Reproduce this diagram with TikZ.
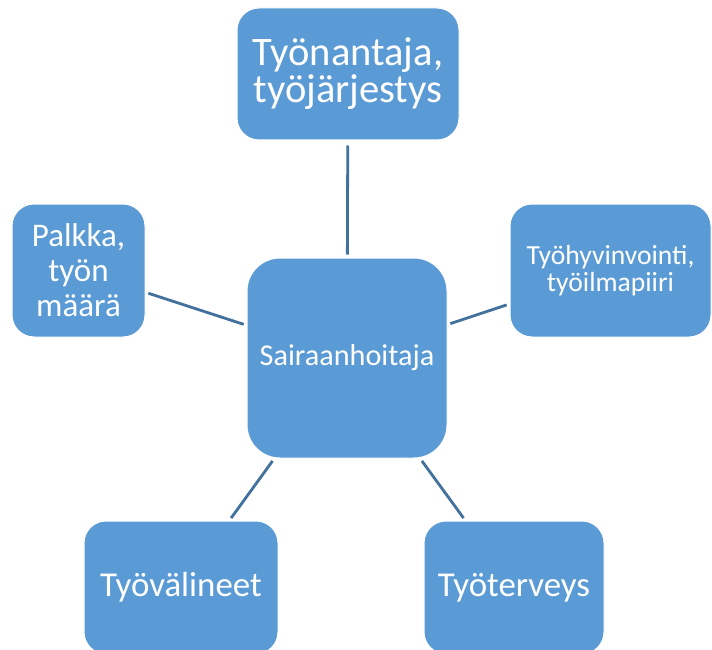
\documentclass[tikz,border=0pt]{standalone}
\usepackage{fontspec}
\setmainfont{Carlito}
\definecolor{boxfill}{HTML}{5B9BD5}
\definecolor{linecol}{HTML}{41719C}
\begin{document}
\begin{tikzpicture}[x=1pt,y=-1pt,
  box/.style={draw=white, line width=1pt, fill=boxfill, text=white, inner sep=0pt, align=center},
  conn/.style={draw=linecol, line width=2.8pt, shorten >=3pt, shorten <=3pt}]
\fill[white] (0,0) rectangle (712,650);
\useasboundingbox (0,0) rectangle (712,650);
\node[box, minimum width=222pt, minimum height=132pt, rounded corners=22pt, font=\fontsize{40.5}{37}\selectfont] (top) at (348,74) {Työnantaja,\\työjärjestys};
\node[box, minimum width=200pt, minimum height=200pt, rounded corners=33pt, font=\fontsize{30.2}{32}\selectfont] (c) at (347,358) {Sairaanhoitaja};
\node[box, minimum width=133pt, minimum height=133pt, rounded corners=22pt, font=\fontsize{33}{35}\selectfont] (l) at (78.5,270.5) {Palkka,\\työn\\määrä};
\node[box, minimum width=201pt, minimum height=133pt, rounded corners=22pt, font=\fontsize{27.6}{26.5}\selectfont] (r) at (610.5,270.5) {Työhyvinvointi,\\työilmapiiri};
\node[box, minimum width=194pt, minimum height=133pt, rounded corners=22pt, font=\fontsize{34.9}{36}\selectfont] (bl) at (181,587.5) {Työvälineet};
\node[box, minimum width=180pt, minimum height=133pt, rounded corners=22pt, font=\fontsize{34.9}{36}\selectfont] (br) at (514,587.5) {Työterveys};
\draw[conn, shorten >=5pt] (c) -- (top);
\draw[conn] (c) -- (l);
\draw[conn] (c) -- (r);
\draw[conn] (c) -- (bl);
\draw[conn] (c) -- (br);
\end{tikzpicture}
\end{document}
